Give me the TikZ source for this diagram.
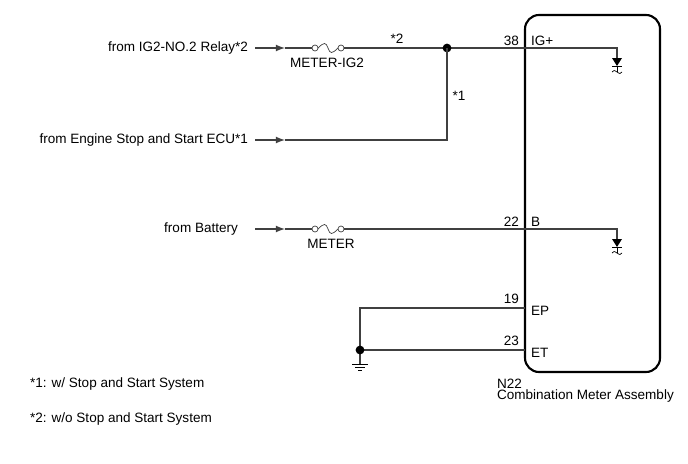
\documentclass[tikz,border=0pt]{standalone}
\usepackage{fontspec}
\setmainfont{Liberation Sans}
\usetikzlibrary{arrows}
\begin{document}
\begin{tikzpicture}[x=0.02cm, y=-0.02cm, >=latex, thin, font=\fontsize{7.7}{9}\selectfont]
  \tikzset{wire/.style={draw=black!75, line width=0.8pt},
           lbl/.style={inner sep=1pt},
           dot/.style={circle, fill=black, inner sep=0pt, minimum size=5pt}}
  \useasboundingbox (0,0) rectangle (688,463);

	% meter box
	\draw[line width=1.2pt, rounded corners=8pt] (525,15) rectangle (660,372);

	% input sources
	\node[lbl, anchor=east] (SIG) at (250,48) {from IG2-NO.2 Relay*2};
	\node[lbl, anchor=east] (SENG) at (250,140) {from Engine Stop and Start ECU*1};
	\node[lbl, anchor=east] (SBAT) at (240,229) {from Battery};

	\coordinate (J1) at (447,48);
	\coordinate (J2) at (360,350);
	\coordinate (P38) at (617,48);
	\coordinate (P22) at (617,229);

	% IG line with fuse
	\draw[wire, ->] (255,48) -- (285,48);
	\draw[wire] (285,48) -- (312,48);
	\draw[black!75] (315,48) circle (3) (341,48) circle (3);
	\draw[black!75] (318,48) .. controls (324,42) and (326,42) .. (328,48) .. controls (330,54) and (332,54) .. (338,48);
	\draw[wire] (344,48) -- (J1) -- (P38) -- (617,58);
	\node[lbl] at (327,63) {METER-IG2};
	\node[lbl] at (397,39) {*2};
	\node[dot] at (J1) {};

	% engine stop line
	\draw[wire, ->] (255,140) -- (285,140);
	\draw[wire] (285,140) -- (447,140) -- (J1);
	\node[lbl] at (459,96) {*1};

	% battery line with fuse
	\draw[wire, ->] (255,229) -- (285,229);
	\draw[wire] (285,229) -- (312,229);
	\draw[black!75] (315,229) circle (3) (341,229) circle (3);
	\draw[black!75] (318,229) .. controls (324,223) and (326,223) .. (328,229) .. controls (330,235) and (332,235) .. (338,229);
	\draw[wire] (344,229) -- (P22) -- (617,239);
	\node[lbl] at (331,244) {METER};

	% diodes
	\foreach \y in {58,239}{
	  \fill (612,\y) -- (622,\y) -- (617,\y+8) -- cycle;
	  \draw (612,\y+8) -- (622,\y+8);
	  \draw (617,\y+8) -- (617,\y+14);
	  \draw (612,\y+14) .. controls (614,\y+12) .. (617,\y+14) .. controls (620,\y+16) .. (622,\y+14);
	}

	% ground lines
	\draw[wire] (525,308) -- (360,308) -- (J2);
	\draw[wire] (525,350) -- (J2) -- (360,364);
	\node[dot] at (J2) {};
	\draw (352,364) -- (368,364) (355,367) -- (365,367) (358,370) -- (362,370);

	% pins
	\node[lbl, anchor=south east] at (521,48) {38};
	\node[lbl, anchor=south west] at (529,48) {IG+};
	\node[lbl, anchor=south east] at (521,229) {22};
	\node[lbl, anchor=south west] at (529,229) {B};
	\node[lbl, anchor=south east] at (521,306) {19};
	\node[lbl, anchor=west] at (529,311) {EP};
	\node[lbl, anchor=south east] at (521,348) {23};
	\node[lbl, anchor=west] at (529,353) {ET};

	% captions
	\node[lbl, anchor=west] at (495,384) {N22};
	\node[lbl, anchor=west] at (495,396) {Combination Meter Assembly};
	\node[lbl, anchor=west] at (28,384) {*1: w/ Stop and Start System};
	\node[lbl, anchor=west] at (28,419) {*2: w/o Stop and Start System};
\end{tikzpicture}
\end{document}
